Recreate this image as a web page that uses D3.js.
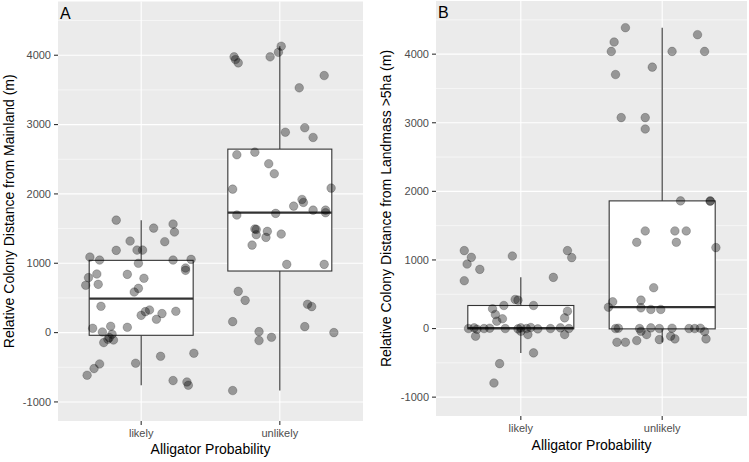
<!DOCTYPE html>
<html><head><meta charset="utf-8">
<script src="https://cdn.jsdelivr.net/npm/d3@7"></script>
<style>body{margin:0;background:#fff}svg{display:block;font-family:"Liberation Sans",Arial,sans-serif}</style>
</head><body>
<svg id="c" width="749" height="462"></svg>
<script>
const categories = ["likely", "unlikely"];
const yTicks = [-1000, 0, 1000, 2000, 3000, 4000];
const yMinor = [-500, 500, 1500, 2500, 3500, 4500];
const yLimits = [-1000, 4500];

// box stats: [lower whisker, Q1, median, Q3, upper whisker]
const boxA = { likely: [-759, -39, 490, 1042, 1622], unlikely: [-836, 888, 1729, 2646, 4130] };
const boxB = { likely: [-355, -3, 5, 336, 746], unlikely: [-200, -5, 311, 1861, 4386] };

// jittered points: [offset from category centre (category units), value]
const ptsALikely = [[-0.18,1622],[0.09,1507],[0.23,1565],[0.24,1450],[-0.08,1320],[0.17,1311],[-0.18,1186],[-0.03,1190],[0.01,1190],[-0.37,1089],[-0.30,1046],[-0.02,999],[0.23,1046],[0.36,1056],[0.32,931],[0.32,898],[-0.32,845],[-0.10,840],[-0.38,793],[0.02,783],[-0.40,682],[-0.31,696],[-0.02,638],[-0.05,585],[-0.29,379],[0.06,326],[0.03,302],[0.00,249],[0.15,274],[0.25,307],[0.11,192],[-0.35,62],[-0.22,91],[-0.10,76],[-0.28,9],[-0.21,-24],[-0.23,-72],[-0.24,-97],[-0.20,-107],[-0.27,-144],[0.38,-298],[0.14,-342],[-0.04,-442],[-0.30,-452],[-0.34,-519],[-0.39,-615],[0.23,-692],[0.33,-712],[0.34,-759]];
const ptsAUnlikely = [[0.01,4130],[-0.01,4043],[-0.07,3977],[-0.33,3977],[-0.32,3938],[-0.30,3890],[0.32,3707],[0.14,3530],[0.18,2954],[0.04,2890],[0.24,2814],[-0.18,2602],[-0.31,2565],[-0.08,2435],[-0.04,2291],[-0.34,2069],[0.37,2084],[0.16,1920],[0.10,1824],[0.17,1877],[0.24,1766],[0.33,1766],[0.33,1729],[-0.31,1695],[-0.03,1719],[-0.17,1488],[-0.18,1495],[-0.17,1412],[-0.09,1460],[-0.10,1373],[0.01,1421],[-0.20,1262],[0.05,984],[0.32,984],[-0.30,595],[-0.25,465],[-0.34,158],[0.20,408],[0.23,375],[0.18,86],[0.39,0],[-0.15,14],[-0.15,-115],[-0.06,-68],[-0.34,-836]];
const ptsBLikely = [[-0.40,1136],[-0.35,1038],[-0.38,940],[-0.29,863],[-0.40,697],[-0.06,1057],[0.23,746],[-0.04,424],[-0.02,414],[-0.12,336],[0.09,336],[-0.20,288],[-0.18,205],[-0.13,142],[-0.17,107],[0.33,253],[0.31,156],[0.33,1136],[0.36,1034],[-0.37,0],[-0.33,10],[-0.31,-10],[-0.26,0],[-0.22,5],[-0.11,0],[-0.02,-5],[0.00,10],[0.04,0],[0.07,15],[0.12,-5],[0.21,0],[0.28,10],[0.34,0],[-0.32,-112],[0.00,-40],[0.05,-88],[0.31,-88],[0.09,-355],[-0.15,-512],[-0.19,-794]];
const ptsBUnlikely = [[-0.26,4386],[0.25,4284],[-0.34,4177],[-0.36,4040],[0.07,4040],[0.30,4040],[-0.07,3811],[-0.33,3703],[-0.29,3075],[-0.12,3075],[-0.12,2909],[0.13,1861],[0.34,1861],[0.34,1855],[-0.12,1423],[0.09,1423],[0.17,1423],[-0.18,1257],[0.10,1257],[0.38,1180],[-0.06,595],[-0.35,390],[-0.15,414],[-0.38,311],[-0.15,302],[-0.08,278],[-0.01,278],[-0.33,0],[-0.31,5],[-0.16,0],[-0.08,10],[-0.02,0],[0.07,5],[0.19,0],[0.23,0],[0.27,5],[-0.15,-40],[-0.11,-88],[0.30,-44],[0.06,-112],[0.09,-151],[-0.02,-161],[0.31,-151],[-0.32,-200],[-0.26,-200],[-0.18,-175]];

const svg = d3.select("#c");

function drawPanel(cfg) {
  const { left, right, top, bottom, tag, ytitle, box, pts, ytitleX, xLabY, xTitleY } = cfg;
  const span = yLimits[1] - yLimits[0];
  const y = d3.scaleLinear().domain([yLimits[0] - span * 0.05, yLimits[1] + span * 0.05]).range([bottom, top]);
  // discrete axis with 0.6 expansion on each side
  const x = d3.scalePoint().domain(categories).range([left, right]).padding(0.6);
  const step = x.step();
  const g = svg.append("g");
  g.append("rect").attr("x", left).attr("y", top).attr("width", right - left).attr("height", bottom - top).attr("fill", "#EBEBEB");
  g.selectAll(".mi").data(yMinor).join("line").attr("x1", left).attr("x2", right)
    .attr("y1", d => y(d)).attr("y2", d => y(d)).attr("stroke", "#fff").attr("stroke-width", 0.55);
  g.selectAll(".ma").data(yTicks).join("line").attr("x1", left).attr("x2", right)
    .attr("y1", d => y(d)).attr("y2", d => y(d)).attr("stroke", "#fff").attr("stroke-width", 1.1);
  g.selectAll(".mv").data(categories).join("line").attr("y1", top).attr("y2", bottom)
    .attr("x1", d => x(d)).attr("x2", d => x(d)).attr("stroke", "#fff").attr("stroke-width", 1.1);
  // boxes
  categories.forEach(c => {
    const s = box[c], cx = x(c), hw = step * 0.375;
    g.append("line").attr("x1", cx).attr("x2", cx).attr("y1", y(s[4])).attr("y2", y(s[3])).attr("stroke", "#333").attr("stroke-width", 1.1);
    g.append("line").attr("x1", cx).attr("x2", cx).attr("y1", y(s[1])).attr("y2", y(s[0])).attr("stroke", "#333").attr("stroke-width", 1.1);
    g.append("rect").attr("x", cx - hw).attr("width", 2 * hw).attr("y", y(s[3])).attr("height", y(s[1]) - y(s[3]))
      .attr("fill", "#fff").attr("stroke", "#333").attr("stroke-width", 1.1);
    g.append("line").attr("x1", cx - hw).attr("x2", cx + hw).attr("y1", y(s[2])).attr("y2", y(s[2])).attr("stroke", "#333").attr("stroke-width", 2.2);
  });
  // points
  categories.forEach(c => {
    g.selectAll(null).data(pts[c]).join("circle")
      .attr("cx", d => x(c) + d[0] * step).attr("cy", d => y(d[1])).attr("r", 4.3)
      .attr("fill", "#000").attr("fill-opacity", 0.36)
      .attr("stroke", "#000").attr("stroke-opacity", 0.25).attr("stroke-width", 0.8);
  });
  // y axis
  const ya = g.append("g");
  yTicks.forEach(t => {
    ya.append("line").attr("x1", left - 4).attr("x2", left).attr("y1", y(t)).attr("y2", y(t)).attr("stroke", "#333").attr("stroke-width", 1.1);
    ya.append("text").attr("x", left - 7).attr("y", y(t)).attr("dy", "0.35em").attr("text-anchor", "end")
      .attr("font-size", 11).attr("fill", "#4D4D4D").text(t);
  });
  categories.forEach(c => {
    g.append("line").attr("x1", x(c)).attr("x2", x(c)).attr("y1", bottom).attr("y2", bottom + 4).attr("stroke", "#333").attr("stroke-width", 1.1);
    g.append("text").attr("x", x(c)).attr("y", xLabY).attr("text-anchor", "middle").attr("font-size", 11).attr("fill", "#4D4D4D").text(c);
  });
  g.append("text").attr("x", (left + right) / 2).attr("y", xTitleY).attr("text-anchor", "middle").attr("font-size", 14).attr("fill", "#000").text("Alligator Probability");
  g.append("text").attr("transform", `translate(${ytitleX},${(top + bottom) / 2}) rotate(-90)`).attr("text-anchor", "middle")
    .attr("font-size", 14).attr("fill", "#000").text(ytitle);
  g.append("text").attr("x", left + 2).attr("y", top + 17).attr("font-size", 16).attr("fill", "#000").text(tag);
}

drawPanel({ left: 58, right: 363, top: 1.5, bottom: 421, tag: "A", ytitle: "Relative Colony Distance from Mainland (m)",
  box: boxA, pts: { likely: ptsALikely, unlikely: ptsAUnlikely }, ytitleX: 14, xLabY: 437, xTitleY: 453.5 });
drawPanel({ left: 436, right: 747, top: 1, bottom: 416, tag: "B", ytitle: "Relative Colony Distance from Landmass >5ha (m)",
  box: boxB, pts: { likely: ptsBLikely, unlikely: ptsBUnlikely }, ytitleX: 391, xLabY: 432, xTitleY: 450 });
</script>
</body></html>
